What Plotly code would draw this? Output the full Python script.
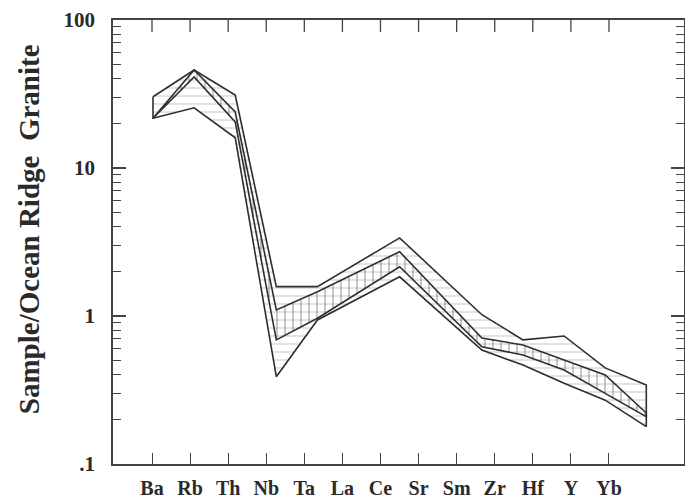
import plotly.graph_objects as go

# ---- data ----
elements = ["Ba", "Rb", "Th", "Nb", "Ta", "La", "Ce", "Sr", "Sm", "Zr", "Hf", "Y", "Yb"]
outer_upper = [30.3, 45.9, 31.1, 1.58, 1.58, None, 3.37, None, 1.02, 0.69, 0.733, 0.446, 0.342]
outer_lower = [21.7, 25.5, 16.0, 0.389, 0.94, None, 1.84, None, 0.589, 0.466, 0.351, 0.27, 0.179]
inner_upper = [21.7, 45.9, 23.9, 1.10, 1.46, None, 2.72, None, 0.71, 0.637, 0.505, 0.40, 0.221]
inner_lower = [21.7, 41.2, 20.5, 0.69, 0.965, None, 2.15, None, 0.62, 0.545, 0.432, 0.30, 0.209]
y_tickvals = [0.1, 1, 10, 100]
y_ticktext = [".1", "1", "10", "100"]
y_title = "Sample/Ocean Ridge&nbsp; Granite"

LINE = "#2e2e2e"
AX = "#444444"
FONT = "Liberation Serif"
TXT = "#2a2a2a"


def pts(vals):
    xs = [i for i, v in enumerate(vals) if v is not None]
    ys = [v for v in vals if v is not None]
    return xs, ys


def polygon(upper, lower):
    xu, yu = pts(upper)
    xl, yl = pts(lower)
    xs = xu + xl[::-1] + [xu[0]]
    ys = yu + yl[::-1] + [yu[0]]
    return xs, ys


fig = go.Figure()

ox, oy = polygon(outer_upper, outer_lower)
ix, iy = polygon(inner_upper, inner_lower)
n = len(elements)

# empty trace on the main (tick) x axis so it gets drawn
fig.add_trace(go.Scatter(x=list(range(n)), y=[None] * n, mode="lines",
                         hoverinfo="skip", showlegend=False))
# envelopes are drawn on the overlaying data axis x2
fig.add_trace(go.Scatter(
    x=ox, y=oy, xaxis="x2", mode="lines", fill="toself",
    fillcolor="rgba(0,0,0,0)", line=dict(width=0, color="rgba(0,0,0,0)"),
    fillpattern=dict(shape="-", fgcolor="#a0a0a0", bgcolor="rgba(0,0,0,0)",
                     size=8, solidity=0.15),
    hoverinfo="skip", showlegend=False))
fig.add_trace(go.Scatter(
    x=ix, y=iy, xaxis="x2", mode="lines", fill="toself",
    fillcolor="rgba(0,0,0,0)", line=dict(width=0, color="rgba(0,0,0,0)"),
    fillpattern=dict(shape="|", fgcolor="#444444", bgcolor="rgba(0,0,0,0)",
                     size=8, solidity=0.15),
    hoverinfo="skip", showlegend=False))
fig.add_trace(go.Scatter(
    x=ox, y=oy, xaxis="x2", mode="lines",
    line=dict(color=LINE, width=1.6), showlegend=False))
fig.add_trace(go.Scatter(
    x=ix, y=iy, xaxis="x2", mode="lines",
    line=dict(color=LINE, width=1.6), showlegend=False))

minor_vals = [k * 10 ** e for e in (-1, 0, 1) for k in range(2, 10)]

# top-edge tick marks at each category position (x scale, domain-relative y)
top_ticks = [dict(type="line", xref="x", yref="y domain", x0=i, x1=i,
                  y0=1, y1=0.973, line=dict(color=AX, width=1.3))
             for i in range(n)]

fig.update_layout(
    width=685, height=499,
    margin=dict(l=113, r=1, t=20, b=35, autoexpand=False),
    paper_bgcolor="white", plot_bgcolor="white",
    showlegend=False,
    shapes=top_ticks,
    xaxis=dict(
        range=[-1.024, 13.97], tickmode="array", tickvals=list(range(n)),
        ticktext=elements, ticks="inside", ticklen=11, tickwidth=1.3,
        tickcolor=AX, showline=True, linecolor=AX, linewidth=1.5,
        mirror=True, showgrid=False, zeroline=False, automargin=False,
        tickfont=dict(family=FONT, size=20, color=TXT, weight="bold"),
        ticklabelstandoff=5,
    ),
    xaxis2=dict(overlaying="x", range=[-0.973, 12.917], visible=False,
                automargin=False),
    yaxis=dict(
        type="log", range=[-1, 2], tickmode="array", tickvals=y_tickvals,
        ticktext=y_ticktext, ticks="inside", ticklen=13, tickwidth=1.5,
        tickcolor=AX, showline=True, linecolor=AX, linewidth=1.5,
        mirror="ticks", showgrid=False, zeroline=False, automargin=False,
        minor=dict(tickmode="array", tickvals=minor_vals, ticks="inside",
                   ticklen=8, tickwidth=1.3, tickcolor=AX, showgrid=False),
        tickfont=dict(family=FONT, size=21, color=TXT, weight="bold"),
        ticklabelstandoff=12,
    ),
    annotations=[dict(
        text=y_title, xref="paper", yref="paper", x=-0.148, y=0.53,
        textangle=-90, showarrow=False, xanchor="center", yanchor="middle",
        font=dict(family=FONT, size=29, color=TXT, weight="bold"),
    )],
)

fig.write_html("out.html")
